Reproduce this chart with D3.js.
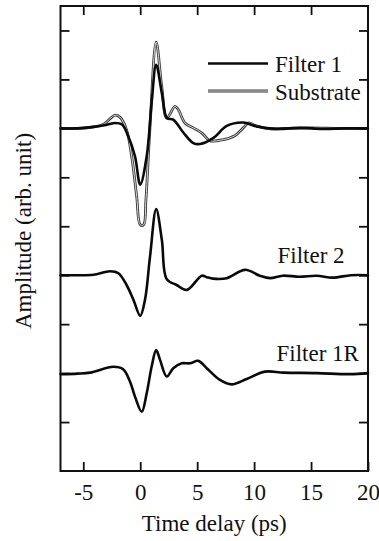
<!DOCTYPE html>
<html>
<head>
<meta charset="utf-8">
<script src="https://cdn.jsdelivr.net/npm/d3@7/dist/d3.min.js"></script>
<style>
  html, body { margin: 0; padding: 0; background: #fff; }
  svg { display: block; }
</style>
</head>
<body>
<svg id="chart" width="379" height="541"></svg>
<script>
// Time axis (ps) and amplitude traces (arb. unit, relative to each trace's baseline)
const filter1Time = [-7, -5.5, -4.1, -3, -2.2, -1.6, -1.05, -0.46, 0, 0.57, 1.0, 1.4, 1.9, 2.35, 2.9, 3.8, 4.66, 5.25, 6.4, 7.6, 9.05, 10.2, 12, 14, 16, 18, 20];
const filter1Amp  = [0, 0, 0.03, 0.07, 0.11, 0.08, -0.16, -0.57, -1.15, -0.57, 0.52, 1.30, 0.72, 0.21, 0.18, -0.09, -0.30, -0.32, -0.20, 0.05, 0.12, 0.04, -0.01, 0.01, -0.01, 0, 0];

const substrateTime = [-7, -5.5, -4.1, -3.25, -2.2, -1.78, -1.2, -0.75, -0.31, 0.0, 0.3, 0.5, 0.85, 1.4, 1.9, 2.33, 3.05, 3.35, 3.93, 4.66, 5.4, 6.1, 7.3, 8.3, 9.05, 9.5, 10.2, 11.4, 13, 15, 17.5, 20];
const substrateAmp  = [0, 0, 0.03, 0.08, 0.27, 0.23, -0.03, -0.57, -1.39, -1.97, -1.97, -1.46, 0.0, 1.76, 0.83, 0.21, 0.45, 0.38, 0.11, 0.01, -0.09, -0.25, -0.23, -0.15, 0.01, 0.11, 0.05, -0.01, 0, 0.01, 0, 0];

const filter2Time = [-7, -5.5, -4.1, -2.65, -1.92, -1.2, -0.6, 0, 0.42, 0.86, 1.4, 1.9, 2.33, 3.2, 4.1, 5.4, 5.84, 6.4, 7.6, 9.2, 10.5, 11.4, 12.5, 14, 15.5, 16.9, 18.5, 20];
const filter2Amp  = [0, 0, 0.01, 0.08, 0.04, -0.2, -0.5, -0.83, -0.5, 0.38, 1.35, 0.72, -0.08, -0.2, -0.3, -0.01, -0.04, -0.07, -0.06, 0.11, -0.01, -0.06, -0.01, -0.03, -0.01, -0.05, 0, 0];

const filter1RTime = [-7, -5.5, -4.4, -2.37, -1.5, -0.9, -0.46, 0.13, 0.57, 1.0, 1.4, 1.74, 2.33, 2.9, 3.64, 4.37, 5.1, 5.84, 7.0, 8.03, 9.35, 10.95, 12.6, 15.5, 18.4, 20];
const filter1RAmp  = [-0.02, -0.01, 0.01, 0.13, 0.08, -0.17, -0.48, -0.79, -0.41, 0.13, 0.47, 0.27, -0.07, 0.10, 0.20, 0.20, 0.25, 0.10, -0.14, -0.23, -0.12, 0.03, 0.01, 0, -0.02, 0];

// Vertical offsets of the stacked traces
const offsets = { filter1: 7, substrate: 7, filter2: 4, filter1R: 2 };

const xTicks = [-5, 0, 5, 10, 15, 20];
const yTicks = [1, 2, 3, 4, 5, 6, 7, 8, 9];
const xDomain = [-7, 20];
const yDomain = [0, 9.5];

const FONT = "'Liberation Serif', 'Times New Roman', Times, serif";
const FONT_SIZE = 23;

const svg = d3.select("#chart");
const plot = { left: 60.5, right: 368, top: 6, bottom: 471 };

const x = d3.scaleLinear().domain(xDomain).range([plot.left, plot.right]);
const y = d3.scaleLinear().domain(yDomain).range([plot.bottom, plot.top]);

const toPoints = (ts, as, off) => ts.map((t, i) => [t, as[i] + off]);
const line = d3.line().x(d => x(d[0])).y(d => y(d[1])).curve(d3.curveCatmullRom.alpha(0.5));

const g = svg.append("g");

const label = (sel) => sel.attr("font-family", FONT).attr("font-size", FONT_SIZE).attr("fill", "#111");

// Axes with inward ticks on all four sides
const tick = 9;
const styleTicks = a => {
  a.select(".domain").remove();
  a.selectAll("line").attr("stroke", "#111").attr("stroke-width", 1.8);
};

g.append("g").attr("transform", `translate(0,${plot.bottom})`)
  .call(d3.axisBottom(x).tickValues(xTicks).tickSizeInner(-tick).tickSizeOuter(0).tickPadding(13).tickFormat(d => String(d)))
  .call(styleTicks)
  .call(a => a.attr("font-family", FONT).attr("font-size", FONT_SIZE))
  .call(a => a.selectAll("text").call(label));

g.append("g").attr("transform", `translate(0,${plot.top})`)
  .call(d3.axisTop(x).tickValues(xTicks.filter(v => v < xDomain[1])).tickSizeInner(-tick).tickSizeOuter(0).tickFormat(""))
  .call(styleTicks);

g.append("g").attr("transform", `translate(${plot.left},0)`)
  .call(d3.axisLeft(y).tickValues(yTicks).tickSizeInner(-tick).tickSizeOuter(0).tickFormat(""))
  .call(styleTicks);

g.append("g").attr("transform", `translate(${plot.right},0)`)
  .call(d3.axisRight(y).tickValues(yTicks).tickSizeInner(-tick).tickSizeOuter(0).tickFormat(""))
  .call(styleTicks);

// Traces: substrate as a hollow grey line, filters as thick black lines
const substratePts = toPoints(substrateTime, substrateAmp, offsets.substrate);
g.append("path").datum(substratePts).attr("d", line)
  .attr("fill", "none").attr("stroke", "#3a3a3a").attr("stroke-width", 2.8).attr("stroke-linejoin", "round");
g.append("path").datum(substratePts).attr("d", line)
  .attr("fill", "none").attr("stroke", "#d9d9d9").attr("stroke-width", 1.0).attr("stroke-linejoin", "round");

[[filter1Time, filter1Amp, offsets.filter1],
 [filter2Time, filter2Amp, offsets.filter2],
 [filter1RTime, filter1RAmp, offsets.filter1R]].forEach(([ts, as, off]) => {
  g.append("path").datum(toPoints(ts, as, off)).attr("d", line)
    .attr("fill", "none").attr("stroke", "#0a0a0a").attr("stroke-width", 2.6)
    .attr("stroke-linejoin", "round").attr("stroke-linecap", "round");
});

// Frame
g.append("rect")
  .attr("x", plot.left).attr("y", plot.top)
  .attr("width", plot.right - plot.left).attr("height", plot.bottom - plot.top)
  .attr("fill", "none").attr("stroke", "#111").attr("stroke-width", 2);

// Legend
const legend = g.append("g");
legend.append("line").attr("x1", 208).attr("x2", 268).attr("y1", 63.5).attr("y2", 63.5)
  .attr("stroke", "#0a0a0a").attr("stroke-width", 2.6);
legend.append("text").attr("x", 275).attr("y", 72).call(label).text("Filter 1");
legend.append("line").attr("x1", 208).attr("x2", 268).attr("y1", 91).attr("y2", 91)
  .attr("stroke", "#3a3a3a").attr("stroke-width", 2.8);
legend.append("line").attr("x1", 208).attr("x2", 268).attr("y1", 91).attr("y2", 91)
  .attr("stroke", "#d9d9d9").attr("stroke-width", 1.0);
legend.append("text").attr("x", 275).attr("y", 100).call(label).text("Substrate");

// Trace labels
g.append("text").attr("x", 277.5).attr("y", 263).call(label).text("Filter 2");
g.append("text").attr("x", 276.5).attr("y", 361).call(label).text("Filter 1R");

// Axis titles
g.append("text").attr("x", (plot.left + plot.right) / 2).attr("y", 531)
  .attr("text-anchor", "middle").call(label).text("Time delay (ps)");
g.append("text").attr("transform", "translate(31,231) rotate(-90)")
  .attr("text-anchor", "middle").call(label).text("Amplitude (arb. unit)");
</script>
</body>
</html>
